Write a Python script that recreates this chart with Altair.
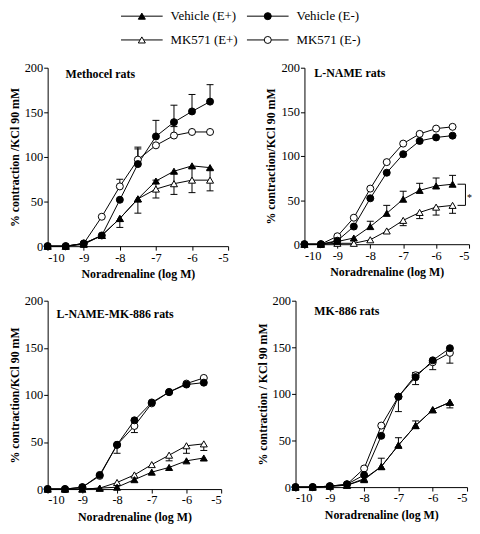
import altair as alt
import pandas as pd

x_vals = [-10, -9.5, -9, -8.5, -8, -7.5, -7, -6.5, -6, -5.5]
series = ["Vehicle (E+)", "Vehicle (E-)", "MK571 (E+)", "MK571 (E-)"]
x_ticks = [-10, -9, -8, -7, -6, -5]
y_ticks = [0, 50, 100, 150, 200]

# ---- Methocel rats
meth_veh_ep = [0, 0, 3, 12, 31, 53, 73, 84, 90, 88]
meth_veh_em = [0, 0, 3, 12, 52, 92, 123, 139, 151, 162]
meth_mk_ep = [0, 0, 2, 12, 31, 53, 64, 70, 74, 74]
meth_mk_em = [0, 0, 3, 33, 67, 97, 113, 124, 128, 128]
meth_up_veh_em = [0, 0, 0, 0, 0, 19, 18, 19, 19, 19]
meth_up_mk_em = [0, 0, 0, 0, 8, 12, 0, 10, 0, 0]
meth_up_mk_ep = [0, 0, 0, 0, 0, 0, 10, 12, 14, 12]
meth_dn_mk_ep = [0, 0, 0, 0, 10, 16, 10, 12, 14, 12]

# ---- L-NAME rats
lname_veh_ep = [0, 0, 3, 7, 20, 35, 51, 61, 66, 68]
lname_veh_em = [0, 0, 4, 20, 52, 81, 102, 117, 121, 123]
lname_mk_ep = [0, 0, 1, 1, 5, 15, 27, 36, 42, 44]
lname_mk_em = [0, 0, 9, 30, 63, 93, 114, 125, 131, 133]
lname_up_veh_ep = [0, 0, 0, 0, 6, 9, 9, 8, 9, 10]
lname_dn_mk_ep = [0, 0, 0, 0, 0, 0, 6, 7, 9, 9]

# ---- L-NAME-MK-886 rats
lmk_veh_ep = [0, 0, 0, 1, 2, 10, 18, 23, 30, 33]
lmk_veh_em = [0, 0, 2, 15, 47, 73, 92, 103, 111, 113]
lmk_mk_ep = [0, 0, 0, 1, 7, 15, 26, 36, 46, 48]
lmk_mk_em = [0, 0, 2, 14, 47, 67, 91, 103, 112, 118]
lmk_dn_veh_em = [0, 0, 0, 0, 9, 0, 0, 0, 0, 0]
lmk_dn_mk_em = [0, 0, 0, 0, 0, 7, 0, 0, 0, 0]
lmk_dn_mk_ep = [0, 0, 0, 0, 0, 0, 0, 6, 8, 7]

# ---- MK-886 rats
mk_veh_ep = [0, 0, 1, 2, 8, 22, 45, 66, 83, 91]
mk_veh_em = [0, 0, 1, 3, 13, 55, 97, 118, 136, 149]
mk_mk_ep = [0, 0, 1, 2, 9, 22, 45, 66, 83, 91]
mk_mk_em = [0, 0, 1, 3, 20, 66, 97, 120, 134, 144]
mk_up_veh_ep = [0, 0, 0, 0, 0, 9, 8, 5, 0, 0]
mk_dn_veh_ep = [0, 0, 0, 0, 0, 0, 0, 0, 0, 6]
mk_up_veh_em = [0, 0, 0, 0, 0, 0, 0, 5, 0, 0]
mk_dn_veh_em = [0, 0, 0, 0, 0, 0, 16, 8, 0, 0]
mk_dn_mk_em = [0, 0, 0, 0, 0, 0, 0, 0, 8, 11]

ZERO = [0] * len(x_vals)
FONT = "Liberation Serif"
shape_range = ["triangle-up", "circle", "triangle-up", "circle"]
fill_range = ["black", "black", "white", "white"]
draw_order = {"MK571 (E+)": 0, "MK571 (E-)": 1, "Vehicle (E+)": 2, "Vehicle (E-)": 3}
PT_SIZE = 50


def build_df(vals, ups, dns):
    rows = []
    for s in series:
        for i, xv in enumerate(x_vals):
            rows.append({
                "x": xv, "y": vals[s][i], "series": s, "ord": draw_order[s],
                "up": vals[s][i] + ups.get(s, ZERO)[i],
                "dn": vals[s][i] - dns.get(s, ZERO)[i],
                "has_up": ups.get(s, ZERO)[i] > 0,
                "has_dn": dns.get(s, ZERO)[i] > 0,
            })
    df = pd.DataFrame(rows)
    return df.sort_values("ord", kind="stable")


def panel(title, ytitle, vals, ups, dns, w, h, tx, ty, bracket=False):
    df = build_df(vals, ups, dns)
    xs = alt.Scale(domain=[-10, -5], nice=False)
    ys = alt.Scale(domain=[0, 200], nice=False)
    xax = alt.Axis(values=x_ticks, labelExpr="'' + datum.value", labelOverlap=False,
                   tickCount=6, title="Noradrenaline (log M)")
    yax = alt.Axis(values=y_ticks, labelOverlap=False, title=ytitle)

    def X(field):
        return alt.X(field, scale=xs, axis=xax)

    def Y(field):
        return alt.Y(field, scale=ys, axis=yax)

    base = alt.Chart(df)
    lines = base.mark_line(color="black", strokeWidth=1).encode(
        x=X("x:Q"), y=Y("y:Q"), detail="series:N", order="x:Q")
    up_df = df[df.has_up]
    dn_df = df[df.has_dn]
    layers = [lines]
    for sub, col in ((up_df, "up"), (dn_df, "dn")):
        if len(sub):
            eb = alt.Chart(sub)
            layers.append(eb.mark_rule(color="black", strokeWidth=1).encode(
                x=X("x:Q"), y=Y("y:Q"), y2=f"{col}:Q"))
            layers.append(eb.mark_rule(color="black", strokeWidth=1, xOffset=-3.5, x2Offset=3.5).encode(
                x=X("x:Q"), x2="x:Q", y=Y(f"{col}:Q")))
    pts = base.mark_point(size=PT_SIZE, stroke="black", strokeWidth=1, opacity=1, filled=False).encode(
        x=X("x:Q"), y=Y("y:Q"),
        shape=alt.Shape("series:N", scale=alt.Scale(domain=series, range=shape_range), legend=None),
        fill=alt.Fill("series:N", scale=alt.Scale(domain=series, range=fill_range), legend=None),
        order="ord:Q")
    layers.append(pts)
    if bracket:
        last = df[df.x == x_vals[-1]]
        top = float(last[last.series == "Vehicle (E+)"].y.iloc[0])
        bot = float(last[last.series == "MK571 (E+)"].y.iloc[0])
        bdf = pd.DataFrame({"x": [x_vals[-1]], "a": [top], "b": [bot], "m": [(top + bot) / 2]})
        bc = alt.Chart(bdf)
        layers.append(bc.mark_rule(color="black", strokeWidth=1, xOffset=13).encode(
            x=X("x:Q"), y=Y("a:Q"), y2="b:Q"))
        layers.append(bc.mark_rule(color="black", strokeWidth=1, xOffset=5, x2Offset=13).encode(
            x=X("x:Q"), x2="x:Q", y=Y("a:Q")))
        layers.append(bc.mark_rule(color="black", strokeWidth=1, xOffset=5, x2Offset=13).encode(
            x=X("x:Q"), x2="x:Q", y=Y("b:Q")))
        layers.append(bc.mark_text(text="*", font=FONT, fontSize=10, dx=17, dy=3, align="center").encode(
            x=X("x:Q"), y=Y("m:Q")))
    tdf = pd.DataFrame({"t": [title]})
    layers.append(alt.Chart(tdf).mark_text(font=FONT, fontWeight="bold", fontSize=12,
                                           align="left", baseline="middle", color="black").encode(
        x=alt.value(tx), y=alt.value(ty), text="t:N"))
    return alt.layer(*layers).properties(width=w, height=h)


p1 = panel("Methocel rats", "% contraction /KCl 90 mM",
           {"Vehicle (E+)": meth_veh_ep, "Vehicle (E-)": meth_veh_em,
            "MK571 (E+)": meth_mk_ep, "MK571 (E-)": meth_mk_em},
           {"Vehicle (E-)": meth_up_veh_em, "MK571 (E-)": meth_up_mk_em, "MK571 (E+)": meth_up_mk_ep},
           {"MK571 (E+)": meth_dn_mk_ep}, 182, 180, 18, 6)
p2 = panel("L-NAME rats", "% contraction/KCl 90 mM",
           {"Vehicle (E+)": lname_veh_ep, "Vehicle (E-)": lname_veh_em,
            "MK571 (E+)": lname_mk_ep, "MK571 (E-)": lname_mk_em},
           {"Vehicle (E+)": lname_up_veh_ep},
           {"MK571 (E+)": lname_dn_mk_ep}, 166, 178, 10, 5, bracket=True)
p3 = panel("L-NAME-MK-886 rats", "% contraction/KCl 90 mM",
           {"Vehicle (E+)": lmk_veh_ep, "Vehicle (E-)": lmk_veh_em,
            "MK571 (E+)": lmk_mk_ep, "MK571 (E-)": lmk_mk_em},
           {},
           {"Vehicle (E-)": lmk_dn_veh_em, "MK571 (E-)": lmk_dn_mk_em, "MK571 (E+)": lmk_dn_mk_ep},
           175, 190, 9, 13)
p4 = panel("MK-886 rats", "% contraction / KCl 90 mM",
           {"Vehicle (E+)": mk_veh_ep, "Vehicle (E-)": mk_veh_em,
            "MK571 (E+)": mk_mk_ep, "MK571 (E-)": mk_mk_em},
           {"Vehicle (E+)": mk_up_veh_ep, "Vehicle (E-)": mk_up_veh_em},
           {"Vehicle (E+)": mk_dn_veh_ep, "Vehicle (E-)": mk_dn_veh_em, "MK571 (E-)": mk_dn_mk_em},
           173, 188, 19, 10)

# ---- legend chart
leg_df = pd.DataFrame({"series": series,
                       "col": [i % 2 for i in range(len(series))],
                       "row": [i // 2 for i in range(len(series))]})
lx = alt.X("col:Q", scale=alt.Scale(domain=[0, 1], range=[95, 222]), axis=None)
ly = alt.Y("row:Q", scale=alt.Scale(domain=[0, 1], range=[3, 27]), axis=None)
lb = alt.Chart(leg_df)
leg = alt.layer(
    lb.mark_rule(color="black", strokeWidth=1, xOffset=-21, x2Offset=21).encode(
        x=lx, x2="col:Q", y=ly),
    lb.mark_point(size=PT_SIZE, stroke="black", strokeWidth=1, opacity=1).encode(
        x="col:Q", y="row:Q",
        shape=alt.Shape("series:N", scale=alt.Scale(domain=series, range=shape_range), legend=None),
        fill=alt.Fill("series:N", scale=alt.Scale(domain=series, range=fill_range), legend=None)),
    lb.mark_text(font=FONT, fontSize=13, align="left", baseline="middle", dx=29, color="black").encode(
        x="col:Q", y="row:Q", text="series:N"),
).properties(width=380, height=28)

top = alt.hconcat(p1, p2, spacing=36)
bottom = alt.hconcat(p3, p4, spacing=34)
chart = alt.vconcat(leg, top, bottom, spacing=15).properties(padding=0).configure_view(
    strokeWidth=0
).configure_axis(
    domainColor="black", tickColor="black", labelColor="black", titleColor="black",
    labelFont=FONT, titleFont=FONT, labelFontSize=12.5, titleFontSize=12,
    titleFontWeight="bold", tickSize=4, labelPadding=1, titlePadding=3, grid=False,
    domainWidth=1, tickWidth=1
).configure_axisX(titlePadding=5)

chart.save("out.html", embed_options={"renderer": "svg", "actions": False})
